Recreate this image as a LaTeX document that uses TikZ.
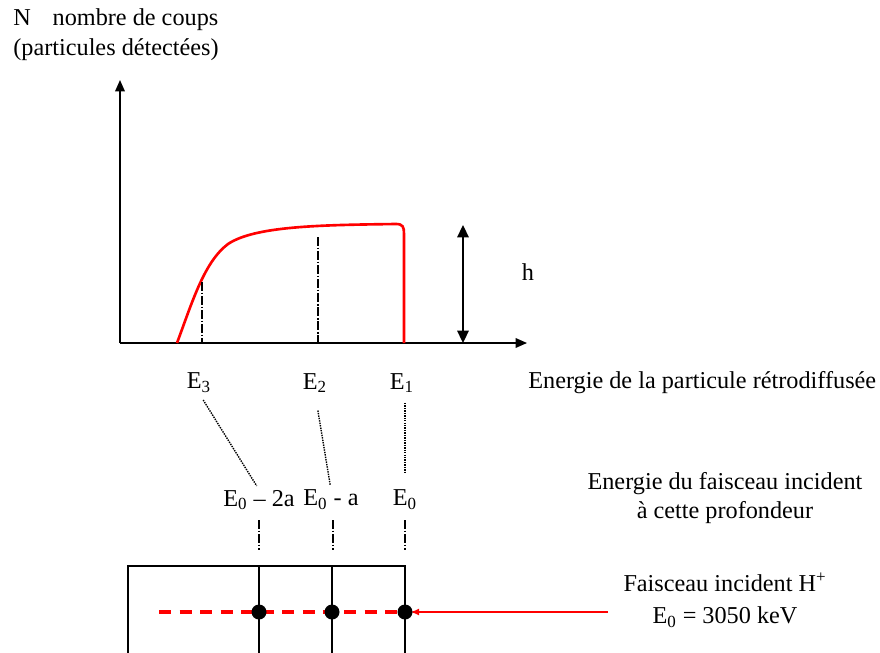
\documentclass[tikz,border=0pt]{standalone}
\usepackage{fontspec}
\setmainfont{Liberation Serif}
\usetikzlibrary{arrows.meta}

\begin{document}
\begin{tikzpicture}[x=0.02cm, y=-0.02cm,
  txt/.style={inner sep=0pt, font=\fontsize{13.8}{17}\selectfont},
  axisline/.style={line width=0.8pt, -{Triangle[length=6.5pt, width=5.5pt]}},
  dashdot/.style={line width=1.5pt, dash pattern=on 5pt off 1pt on 1pt off 1pt},
  dotline/.style={line width=0.8pt, dash pattern=on 0.8pt off 0.6pt},
  spectrum/.style={red, line width=1.5pt},
  beam/.style={red, line width=1.3pt},
  beamdash/.style={red, line width=2.2pt, dash pattern=on 6.8pt off 4.9pt},
  layer/.style={line width=0.6pt}]
  \useasboundingbox (0,0) rectangle (880,653);

  % axes
  \coordinate (orig) at (120,343);
  \draw[axisline] (orig) -- (120,80);
  \draw[axisline] (orig) -- (527,343);
  \node[txt, anchor=west, align=left] (ylab) at (13,35)
    {N\hspace{0.9em}nombre de coups\\(particules détectées)};

  % spectrum
  \draw[spectrum] (177,343) .. controls (192,303) and (204,262) .. (228,244)
    .. controls (255,226) and (320,225) .. (396,224)
    .. controls (403,224) and (404,227) .. (404,234) -- (404,343);
  \draw[dashdot] (202,282) -- (202,343);
  \draw[dashdot] (318,237) -- (318,343);

  \coordinate (htop) at (463,225);
  \coordinate (hbot) at (463,343);
  \draw[line width=1pt, {Triangle[length=7pt, width=6.5pt]}-{Triangle[length=7pt, width=6.5pt]}] (hbot) -- (htop);
  \node[txt] (hlab) at (528,272) {h};

  % energies
  \node[txt] (lab3) at (199,383) {E\textsubscript{3}};
  \node[txt] (lab2) at (315,383) {E\textsubscript{2}};
  \node[txt] (lab1) at (402,383) {E\textsubscript{1}};
  \node[txt, anchor=west] (xlab) at (528,383) {Energie de la particule rétrodiffusée};

  \node[txt] (inc2) at (259,500) {E\textsubscript{0} – 2a};
  \node[txt] (inc1) at (331,500) {E\textsubscript{0} - a};
  \node[txt] (inc0) at (405,500) {E\textsubscript{0}};
  \node[txt, align=center] (inctxt) at (725,498) {Energie du faisceau incident\\à cette profondeur};

  \draw[dotline, shorten <=4.5pt, shorten >=2.5pt] (lab3.south) -- (inc2.north);
  \draw[dotline, shorten <=10pt, shorten >=2.5pt] (lab2.south) -- (inc1.north);
  \draw[dotline, shorten <=5.5pt, shorten >=9pt] (inc0.north |- lab1.south) -- (inc0.north);

  \foreach \x in {259,333,405}
    \draw[dashdot] (\x,520) -- (\x,550);

  % target
  \draw[layer] (128,653) -- (128,566) -- (405,566) -- (405,653);
  \draw[layer] (259,566) -- (259,653);
  \draw[layer] (332,566) -- (332,653);

  \coordinate (s2) at (259,612);
  \coordinate (s1) at (332,612);
  \coordinate (s0) at (405,612);
  \coordinate (bend) at (159,612);
  \coordinate (src) at (608,612);
  \draw[beamdash] (bend) -- (s0);
  \draw[beam, -{Latex[length=5pt, width=4pt]}, shorten >=3pt] (src) -- (s0);
  \foreach \p in {s2,s1,s0}
    \fill (\p) circle (7.5);

  \node[txt, align=center] (beamtxt) at (725,600)
    {Faisceau incident H\textsuperscript{+}\\[1pt]E\textsubscript{0} = 3050 keV};
\end{tikzpicture}
\end{document}
